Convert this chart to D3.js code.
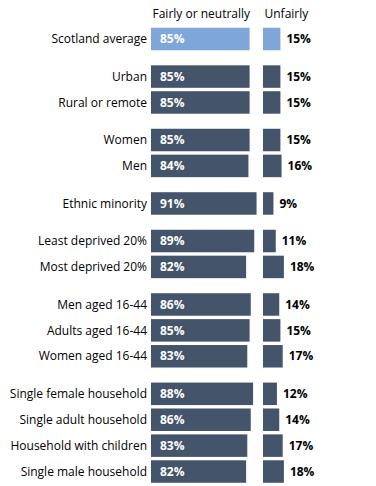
<!DOCTYPE html>
<html>
  <head>
    <meta charset='utf-8' />
    <script src="https://d3js.org/d3.v7.min.js"></script>
    <style>
    body { margin: 0; background: #fff; }
    text { font-family: "Open Sans", "Liberation Sans", sans-serif; }
    </style>
  </head>
  <body>
    <div id="chart"></div>
    <script>
var categories = ["Scotland average", "Urban", "Rural or remote", "Women", "Men",
  "Ethnic minority", "Least deprived 20%", "Most deprived 20%", "Men aged 16-44",
  "Adults aged 16-44", "Women aged 16-44", "Single female household",
  "Single adult household", "Household with children", "Single male household"];
var groups = [0, 1, 1, 2, 2, 3, 4, 4, 5, 5, 5, 6, 6, 6, 6];
var fairly = [85, 85, 85, 85, 84, 91, 89, 82, 86, 85, 83, 88, 86, 83, 82];
var unfairly = [15, 15, 15, 15, 16, 9, 11, 18, 14, 15, 17, 12, 14, 17, 18];
var headers = ["Fairly or neutrally", "Unfairly"];

var width = 376, height = 486,
    fairX = 151, unfairX = 263,
    barH = 22.5, groupGap = 0.45;

var rows = categories.map(function(c, i) {
  return { name: c, pos: i + groups[i] * groupGap, fairly: fairly[i], unfairly: unfairly[i], avg: i === 0 };
});

var x = d3.scaleLinear().domain([0, 100]).range([0, 116]);
var y = d3.scaleLinear().domain([0, 1]).range([39, 39 + 25.9]);

var svg = d3.select("#chart").append("svg")
    .attr("width", width)
    .attr("height", height);

svg.selectAll(".header").data(headers).enter().append("text")
    .attr("class", "header")
    .attr("x", function(d, i) { return i === 0 ? fairX + 1.5 : unfairX + 1.5; })
    .attr("y", 18)
    .style("font-size", "12px")
    .style("fill", "#000")
    .text(function(d) { return d; });

var row = svg.selectAll(".row").data(rows).enter().append("g")
    .attr("class", "row")
    .attr("transform", function(d) { return "translate(0," + y(d.pos) + ")"; });

row.append("text")
    .attr("x", fairX - 4)
    .attr("dy", "0.35em")
    .style("text-anchor", "end")
    .style("font-size", "12px")
    .style("fill", "#000")
    .text(function(d) { return d.name; });

row.append("rect")
    .attr("x", fairX)
    .attr("y", -barH / 2)
    .attr("width", function(d) { return x(d.fairly); })
    .attr("height", barH)
    .style("fill", function(d) { return d.avg ? "#7EA6D8" : "#44546A"; });

row.append("text")
    .attr("x", fairX + 9)
    .attr("dy", "0.35em")
    .style("font-size", "12px")
    .style("font-weight", "bold")
    .style("fill", "#fff")
    .text(function(d) { return d.fairly + "%"; });

row.append("rect")
    .attr("x", unfairX)
    .attr("y", -barH / 2)
    .attr("width", function(d) { return x(d.unfairly); })
    .attr("height", barH)
    .style("fill", function(d) { return d.avg ? "#7EA6D8" : "#44546A"; });

row.append("text")
    .attr("x", function(d) { return unfairX + x(d.unfairly) + 6; })
    .attr("dy", "0.35em")
    .style("font-size", "12px")
    .style("font-weight", "bold")
    .style("fill", "#000")
    .text(function(d) { return d.unfairly + "%"; });
    </script>
</body>
</html>
